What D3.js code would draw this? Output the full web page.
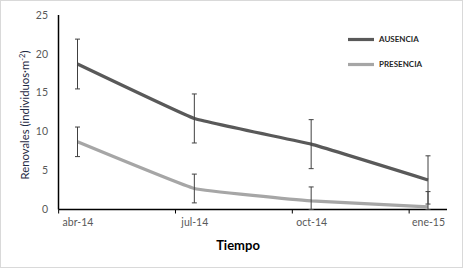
<!DOCTYPE html>
<html>
<head>
<meta charset="utf-8">
<script src="https://cdn.jsdelivr.net/npm/d3@7"></script>
<style>
  body { margin: 0; background: #fff; }
  svg { font-family: Lato, "Open Sans", sans-serif; }
</style>
</head>
<body>
<svg id="chart" width="463" height="269"></svg>
<script>
const categories = ['abr-14', 'jul-14', 'oct-14', 'ene-15'];
const ausencia = [18.7, 11.7, 8.4, 3.8];
const ausenciaErr = [3.2, 3.15, 3.15, 3.1];
const presencia = [8.7, 2.7, 1.1, 0.35];
const presenciaErr = [1.9, 1.85, 1.8, 1.95];
const yTicks = [0, 5, 10, 15, 20, 25];

const series = [
  { name: 'AUSENCIA', values: ausencia, err: ausenciaErr, color: '#595959' },
  { name: 'PRESENCIA', values: presencia, err: presenciaErr, color: '#a6a6a6' }
];

const svg = d3.select('#chart');

// outer chart border
svg.append('rect')
  .attr('x', 0.5).attr('y', 0.5)
  .attr('width', 462).attr('height', 267)
  .attr('fill', '#fff')
  .attr('stroke', '#d9d9d9');

const plot = { left: 58.5, right: 447, top: 15, bottom: 209.5 };

const x = d3.scalePoint()
  .domain(categories)
  .range([77.5, 428]);

const y = d3.scaleLinear()
  .domain([0, 25])
  .range([plot.bottom, plot.top]);

// tick offset: Excel date axis puts tick marks left of the points
const step = x.step();
const tickShift = -step / 6.2;

// y axis labels
svg.append('g')
  .selectAll('text')
  .data(yTicks)
  .join('text')
  .attr('x', 48)
  .attr('y', d => y(d))
  .attr('dy', '0.35em')
  .attr('text-anchor', 'end')
  .attr('font-size', 10.5)
  .attr('fill', '#595959')
  .text(d => d);

// x axis
const xAxis = svg.append('g')
  .attr('transform', `translate(0,${plot.bottom})`)
  .call(d3.axisBottom(x).tickSize(0).tickPadding(9));
xAxis.select('.domain').remove();
xAxis.selectAll('text')
  .attr('font-family', 'Lato, "Open Sans", sans-serif')
  .attr('font-size', 10.5)
  .attr('fill', '#595959');

xAxis.selectAll('.tick-mark')
  .data(categories)
  .join('line')
  .attr('class', 'tick-mark')
  .attr('x1', d => x(d) + tickShift)
  .attr('x2', d => x(d) + tickShift)
  .attr('y1', 0)
  .attr('y2', 4)
  .attr('stroke', '#000')
  .attr('stroke-width', 1);

svg.append('line')
  .attr('x1', plot.left).attr('x2', plot.right)
  .attr('y1', plot.bottom).attr('y2', plot.bottom)
  .attr('stroke', '#000').attr('stroke-width', 1.5);

svg.append('line')
  .attr('x1', plot.left).attr('x2', plot.left)
  .attr('y1', plot.top).attr('y2', plot.bottom)
  .attr('stroke', '#000').attr('stroke-width', 1.5);

// series lines (light smoothing like the original)
const line = d3.line()
  .x((d, i) => x(categories[i]))
  .y(d => y(d))
  .curve(d3.curveCardinal.tension(0.75));

series.forEach(s => {
  svg.append('path')
    .datum(s.values)
    .attr('fill', 'none')
    .attr('stroke', s.color)
    .attr('stroke-width', 3.2)
    .attr('d', line);
});

// error bars
series.forEach(s => {
  const g = svg.append('g').attr('stroke', '#404040').attr('stroke-width', 1);
  s.values.forEach((v, i) => {
    const cx = x(categories[i]);
    const top = y(v + s.err[i]);
    const bot = y(Math.max(0, v - s.err[i]));
    g.append('line').attr('x1', cx).attr('x2', cx).attr('y1', top).attr('y2', bot);
    g.append('line').attr('x1', cx - 2.5).attr('x2', cx + 2.5).attr('y1', top).attr('y2', top);
    g.append('line').attr('x1', cx - 2.5).attr('x2', cx + 2.5).attr('y1', bot).attr('y2', bot);
  });
});

// legend
const legend = svg.append('g');
series.forEach((s, i) => {
  const ly = 39.5 + i * 25;
  legend.append('line')
    .attr('x1', 348).attr('x2', 374)
    .attr('y1', ly).attr('y2', ly)
    .attr('stroke', s.color).attr('stroke-width', 3.2);
  legend.append('text')
    .attr('x', 379).attr('y', ly)
    .attr('dy', '0.35em')
    .attr('font-size', 8)
    .attr('font-weight', 'bold')
    .attr('fill', '#262626')
    .text(s.name);
});

// axis titles
svg.append('text')
  .attr('transform', 'rotate(-90)')
  .attr('x', -115)
  .attr('y', 25)
  .attr('dy', '0.35em')
  .attr('text-anchor', 'middle')
  .attr('font-size', 11.3)
  .attr('fill', '#1f2a44')
  .html('Renovales (individuos·m<tspan dy="-4" font-size="7.5">-2</tspan><tspan dy="4">)</tspan>');

svg.append('text')
  .attr('x', 238)
  .attr('y', 245)
  .attr('dy', '0.35em')
  .attr('text-anchor', 'middle')
  .attr('font-size', 13)
  .attr('font-weight', 'bold')
  .attr('fill', '#000')
  .text('Tiempo');
</script>
</body>
</html>
